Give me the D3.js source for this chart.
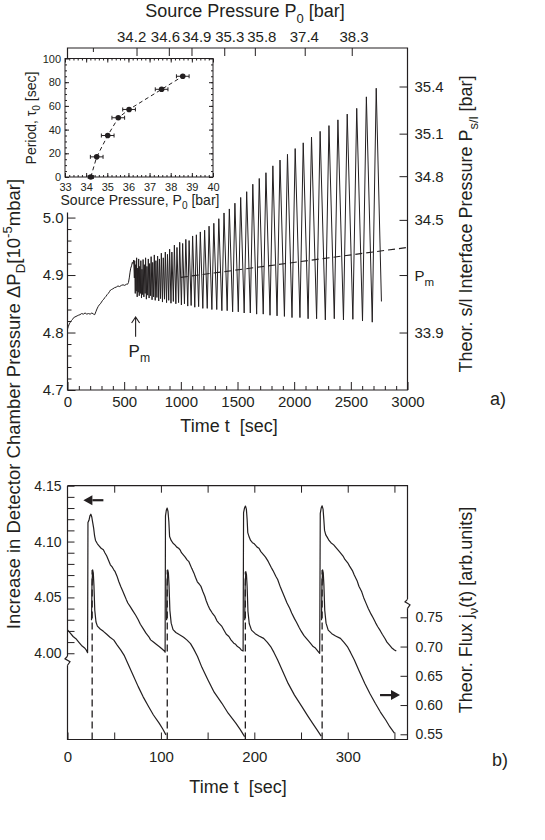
<!DOCTYPE html>
<html><head><meta charset="utf-8">
<script src="https://cdn.jsdelivr.net/npm/d3@7"></script>
<style>
body{margin:0;background:#fff}
</style></head><body>
<svg id="c" width="545" height="840" xmlns="http://www.w3.org/2000/svg"></svg>
<script>
// ================= DATA =================
// Panel a: detector chamber pressure before oscillation onset [t (s), ΔP_D]
const preSeries = [[0,4.806],[8,4.811],[16,4.815],[25,4.818],[35,4.821],[45,4.823],[55,4.826],[65,4.827],[75,4.828],[85,4.829],[95,4.830],[110,4.831],[125,4.833],[140,4.832],[155,4.834],[170,4.832],[185,4.833],[200,4.832],[215,4.834],[230,4.832],[240,4.831],[250,4.836],[260,4.841],[270,4.845],[280,4.848],[290,4.850],[300,4.853],[310,4.856],[320,4.858],[330,4.861],[340,4.863],[350,4.866],[360,4.868],[370,4.871],[380,4.874],[390,4.875],[400,4.876],[415,4.878],[430,4.879],[445,4.881],[460,4.880],[475,4.882],[490,4.883],[505,4.882],[520,4.884],[530,4.884],[538,4.887],[545,4.895],[552,4.905],[558,4.912],[565,4.916],[572,4.922],[578,4.920],[584,4.926]];
// Panel a: oscillation turning points
const troughT = [590,598,606,615,624,633,643,653,663,674,685,696,708,720,733,746,760,774,789,805,821,838,856,874,893,913,934,956,980,1005,1032,1061,1091,1123,1157,1194,1233,1274,1317,1362,1409,1457,1507,1559,1613,1669,1727,1787,1849,1914,1981,2051,2123,2198,2275,2354,2435,2518,2603,2689,2770];
const troughV = [4.895,4.868,4.872,4.862,4.870,4.864,4.868,4.860,4.866,4.862,4.868,4.858,4.865,4.860,4.864,4.857,4.862,4.856,4.861,4.855,4.859,4.853,4.858,4.852,4.856,4.851,4.854,4.850,4.852,4.848,4.850,4.846,4.847,4.844,4.845,4.842,4.842,4.840,4.840,4.838,4.838,4.836,4.836,4.834,4.834,4.832,4.832,4.830,4.829,4.828,4.826,4.826,4.824,4.824,4.822,4.824,4.822,4.823,4.820,4.818,4.854];
const peakT = [593,601,610,619,628,637,647,657,667,678,689,701,713,725,738,752,766,780,795,811,828,845,863,882,901,921,943,966,990,1016,1044,1073,1104,1137,1172,1210,1249,1291,1335,1381,1428,1477,1528,1581,1635,1692,1751,1812,1875,1941,2009,2080,2153,2229,2307,2386,2468,2552,2637,2724];
const peakV = [4.925,4.918,4.930,4.912,4.928,4.915,4.925,4.910,4.927,4.918,4.930,4.915,4.928,4.920,4.932,4.922,4.935,4.925,4.933,4.928,4.938,4.930,4.940,4.936,4.945,4.940,4.952,4.948,4.957,4.955,4.962,4.960,4.968,4.970,4.975,4.978,4.985,4.990,4.998,5.008,5.015,5.025,5.035,5.045,5.058,5.068,5.078,5.090,5.100,5.110,5.120,5.130,5.140,5.150,5.160,5.170,5.180,5.190,5.210,5.225];
// Panel a: dashed mean-pressure line
const pmLineT = [1000, 3000];
const pmLineV = [4.896, 4.948];
// Panel a: axes
const aBottomTicks = [0,500,1000,1500,2000,2500,3000];
const aLeftTicks = [4.7,4.8,4.9,5.0];
const aTopTickT = [609,894,1094,1383,1653,2093,2508];
const aTopShortTickT = [224];
const aTopLabelT = [566,864,1141,1432,1715,2090,2529];
const aTopLabels = ["34.2","34.6","34.9","35.3","35.8","37.4","38.3"];
const aRightLabels = ["35.4","35.1","34.8","34.5","P_m","33.9"];
const aRightLabelAt = [5.228,5.146,5.072,4.996,4.900,4.800];
const pmArrowT = 601;

// Inset: period vs source pressure
const insetP0 = [34.22,34.5,35.02,35.52,36.03,37.57,38.57];
const insetTau = [0,17,35,50,57,74,85];
const insetErr = [0.12,0.3,0.3,0.3,0.3,0.3,0.3];
const insetXTicks = [33,34,35,36,37,38,39,40];
const insetYTicks = [0,20,40,60,80,100];

// Panel b: detector chamber pressure (left axis) [t, value]
const upperCurve = [[0,4.021],[3,4.018],[6,4.015],[9,4.013],[12,4.010],[15,4.007],[18,4.005],[20,4.003],[21.5,4.0005],
[21.9,4.117],[23,4.119],[24,4.123],[25,4.1245],[26,4.122],[27,4.117],[28,4.112],[29,4.105],[30,4.101],[32,4.098],[34,4.096],[36,4.094],[38.4,4.0926],[40,4.090],[42,4.087],[44,4.083],[45.9,4.0792],[48,4.077],[49.6,4.0747],[51,4.073],[53,4.069],[55,4.064],[57,4.0598],[59,4.056],[61,4.052],[63,4.048],[64.6,4.045],[67,4.042],[70,4.038],[73,4.034],[75.7,4.030],[78,4.026],[81,4.022],[84,4.018],[86.9,4.015],[89,4.012],[92,4.010],[95,4.008],[98.1,4.006],[101,4.004],[103.7,4.002],[104.5,4.001],
[104.9,4.123],[105.8,4.128],[106.7,4.130],[107.6,4.127],[108.5,4.118],[109.3,4.1045],[111,4.101],[113,4.0985],[115,4.097],[117,4.095],[119,4.094],[120.5,4.0926],[122,4.090],[124,4.088],[126,4.086],[128,4.0836],[130,4.082],[131,4.080],[133,4.076],[135.4,4.0717],[137,4.068],[139,4.064],[141,4.062],[142.9,4.0598],[145,4.055],[147,4.051],[148.5,4.047],[150.4,4.043],[152,4.040],[155,4.036],[157.8,4.033],[160,4.029],[162,4.027],[165.3,4.024],[168,4.020],[170,4.017],[172.8,4.015],[175,4.012],[178,4.009],[180,4.008],[182,4.006],[184,4.005],[186,4.003],[188,4.002],
[188.5,4.126],[189.5,4.130],[190.5,4.1318],[191.5,4.129],[192.3,4.120],[193,4.108],[194.5,4.104],[196,4.101],[198,4.099],[200,4.098],[203,4.095],[205,4.094],[207,4.091],[210,4.088],[212,4.086],[215,4.082],[218,4.077],[220,4.074],[223,4.069],[225,4.066],[228,4.059],[230,4.055],[233,4.049],[235,4.045],[238,4.040],[240,4.036],[243,4.031],[245,4.028],[248,4.023],[250,4.020],[253,4.016],[255,4.014],[258,4.011],[260,4.009],[263,4.006],[265,4.005],[268,4.002],[270,4.000],
[270.6,4.125],[271.6,4.130],[272.6,4.132],[273.6,4.129],[274.4,4.120],[275.2,4.110],[276.5,4.106],[278,4.104],[280,4.101],[282,4.099],[285,4.097],[287,4.095],[290,4.092],[292,4.090],[295,4.087],[297,4.084],[300,4.081],[302,4.078],[305,4.074],[307,4.070],[310,4.065],[312,4.060],[315,4.055],[317,4.050],[320,4.044],[322,4.040],[325,4.035],[327,4.032],[330,4.027],[332,4.024],[335,4.020],[337,4.017],[340,4.013],[342,4.010],[345,4.007],[347,4.005],[350,4.003],[352,4.002]];
// Panel b: theoretical flux (right axis), cycles separated by null
const lowT = [25.7,26.2,26.9,27.6,28.3,29.2,30.5,32,35,38.4,42,45.5,49.6,53,57.1,61,64.6,70,75.7,81,86.9,92,98.1,102,105.4,null,
106.1,106.6,107.3,108,108.7,109.6,111,113,116,120,124.3,128,131.7,135,139.2,144,150.4,157,165.3,172,180.2,185,189.6,null,
189.7,190.2,190.9,191.6,192.3,193.2,194.6,197,201,205,210,214,217.5,221,225,230,236.2,243,251.1,257,262.3,267,271.6,null,
271.9,272.4,273.1,273.8,274.5,275.4,276.8,279.1,283,287,292.2,296,299.6,303,307.1,312,318.3,324,329.5,335,340.7,345,350];
const lowV = [0.745,0.805,0.831,0.826,0.805,0.762,0.742,0.735,0.730,0.726,0.721,0.716,0.711,0.703,0.694,0.684,0.671,0.652,0.6315,0.614,0.597,0.583,0.569,0.559,0.549,null,
0.745,0.805,0.831,0.826,0.805,0.762,0.740,0.729,0.724,0.720,0.716,0.711,0.705,0.696,0.683,0.664,0.643,0.622,0.603,0.586,0.569,0.558,0.546,null,
0.745,0.803,0.828,0.823,0.803,0.760,0.739,0.728,0.722,0.718,0.714,0.707,0.700,0.690,0.677,0.659,0.637,0.617,0.597,0.582,0.569,0.558,0.547,null,
0.745,0.805,0.831,0.826,0.805,0.762,0.740,0.728,0.722,0.718,0.714,0.707,0.700,0.690,0.677,0.659,0.637,0.619,0.603,0.588,0.5745,0.563,0.552];
const dashT = [26.4,106.8,190.4,272.6];
const dashTop = [0.831,0.831,0.828,0.831];
// Panel b axes
const bXTicks = [0,50,100,150,200,250,300,350];
const bXLabels = [0,100,200,300];
const bLeftTicks = [4.00,4.01,4.02,4.03,4.04,4.05,4.06,4.07,4.08,4.09,4.10,4.11,4.12,4.13,4.14,4.15];
const bLeftLabels = [4.00,4.05,4.10,4.15];
const bRightTicks = [0.55,0.60,0.65,0.70,0.75];
const leftArrowAt = [17, 4.137];   // [t, value] arrow tip (points left)
const rightArrowAt = [356, 0.617]; // [t, value] arrow tip (points right)

// ================= DRAWING =================
const FONT = "'Liberation Sans', Arial, Helvetica, sans-serif";
const ink = "#231f20";
const svg = d3.select("#c");
svg.append("rect").attr("width",545).attr("height",840).attr("fill","#fff");

function rich(sel, parts, fs, base){
  // parts: [text, mode] with mode "", "sub", "sup"; base = baseline offset (px)
  let shift = -(base||0);
  parts.forEach(([t, m]) => {
    const ts = sel.append("tspan").text(t);
    let target = m === "sub" ? 0.32*fs : (m === "sup" ? -0.38*fs : 0);
    ts.attr("dy", target - shift);
    shift = target;
    if (m) ts.attr("font-size", (0.72*fs).toFixed(1));
  });
  return sel;
}
function txt(x, y, fs, anchor){
  return svg.append("text").attr("x",x).attr("y",y).attr("font-size",fs)
    .attr("font-family",FONT).attr("fill",ink).attr("text-anchor",anchor||"start");
}
function styleAxis(g, fs){
  g.attr("font-family",FONT).attr("font-size",fs);
  g.select(".domain").remove();
  g.selectAll(".tick line").attr("stroke",ink).attr("stroke-width",1);
  g.selectAll(".tick text").attr("fill",ink);
  return g;
}

// ---------- Panel a ----------
const xA = d3.scaleLinear().domain([0,3000]).range([67.5,407.5]);
const yA = d3.scaleLinear().domain([4.7,5.295]).range([390,48]);

styleAxis(svg.append("g").attr("transform","translate(0,390)")
  .call(d3.axisBottom(xA).tickValues(aBottomTicks).tickSize(-8).tickPadding(6).tickFormat(d3.format("d"))),15);
styleAxis(svg.append("g").attr("transform","translate(0,390)")
  .call(d3.axisBottom(xA).tickValues(d3.range(100,3000,100).filter(d=>d%500)).tickSize(-4).tickFormat("")),15);
styleAxis(svg.append("g").attr("transform","translate(67.5,0)")
  .call(d3.axisLeft(yA).tickValues(aLeftTicks).tickSize(-8).tickPadding(4).tickFormat(d3.format(".1f"))),15);
styleAxis(svg.append("g").attr("transform","translate(67.5,0)")
  .call(d3.axisLeft(yA).tickValues(d3.range(4.72,5.0,0.02).filter(d=>Math.abs(d*10-Math.round(d*10))>0.01)).tickSize(-4).tickFormat("")),15);
styleAxis(svg.append("g").attr("transform","translate(0,48)")
  .call(d3.axisTop(xA).tickValues(aTopTickT).tickSize(-8).tickFormat("")),15);
styleAxis(svg.append("g").attr("transform","translate(0,48)")
  .call(d3.axisTop(xA).tickValues(aTopShortTickT).tickSize(-4).tickFormat("")),15);
styleAxis(svg.append("g").attr("transform","translate(407.5,0)")
  .call(d3.axisRight(yA).tickValues(aRightLabelAt).tickSize(-8).tickFormat("")),15);

aTopLabels.forEach((l,i)=>{ txt(xA(aTopLabelT[i]),42,15,"middle").text(l); });
aRightLabels.forEach((l,i)=>{
  const t = txt(407.5+7, yA(aRightLabelAt[i]), 15);
  if (l === "P_m") rich(t, [["P",""],["m","sub"]], 16, 5.5); else t.attr("dy","0.36em").text(l);
});

svg.append("path").attr("d",`M67.5,58V48H407.5V390H67.5V${yA(5.0)-5}`)
  .attr("fill","none").attr("stroke",ink).attr("stroke-width",1.2);

const lineA = d3.line().x(d=>xA(d[0])).y(d=>yA(d[1]));
const osc = [];
troughT.forEach((t,i)=>osc.push([t,troughV[i]]));
peakT.forEach((t,i)=>osc.push([t,peakV[i]]));
osc.sort((a,b)=>a[0]-b[0]);
svg.append("path").datum(preSeries.concat(osc)).attr("d",lineA)
  .attr("fill","none").attr("stroke",ink).attr("stroke-width",1).attr("stroke-linejoin","round");
svg.append("path").datum(pmLineT.map((t,i)=>[t,pmLineV[i]])).attr("d",lineA)
  .attr("fill","none").attr("stroke",ink).attr("stroke-width",1.1).attr("stroke-dasharray","7,4");

const ax = xA(pmArrowT), ayTop = yA(4.827), ayBot = yA(4.7927);
svg.append("path").attr("d",`M${ax},${ayBot}V${ayTop}M${ax-4},${ayTop+6}L${ax},${ayTop}L${ax+4},${ayTop+6}`)
  .attr("fill","none").attr("stroke",ink).attr("stroke-width",1.1);
rich(txt(ax-7, ayBot+20, 17), [["P",""],["m","sub"]], 17);

// ---------- Inset ----------
const xI = d3.scaleLinear().domain([33,40]).range([65,213]);
const yI = d3.scaleLinear().domain([0,100]).range([177,58.5]);
svg.append("rect").attr("x",65).attr("y",58.5).attr("width",148).attr("height",118.5)
  .attr("fill","#fff").attr("stroke",ink).attr("stroke-width",1);
styleAxis(svg.append("g").attr("transform","translate(0,177)")
  .call(d3.axisBottom(xI).tickValues(insetXTicks).tickSize(-4).tickPadding(6).tickFormat(d3.format("d"))),11);
styleAxis(svg.append("g").attr("transform","translate(0,177)")
  .call(d3.axisBottom(xI).tickValues(d3.range(33.2,40,0.2)).tickSize(-2).tickFormat("")),11);
styleAxis(svg.append("g").attr("transform","translate(0,58.5)")
  .call(d3.axisTop(xI).tickValues(insetXTicks).tickSize(-4).tickFormat("")),11);
styleAxis(svg.append("g").attr("transform","translate(0,58.5)")
  .call(d3.axisTop(xI).tickValues(d3.range(33.2,40,0.2)).tickSize(-2).tickFormat("")),11);
styleAxis(svg.append("g").attr("transform","translate(65,0)")
  .call(d3.axisLeft(yI).tickValues(insetYTicks).tickSize(-4).tickPadding(4).tickFormat(d3.format("d"))),11);
styleAxis(svg.append("g").attr("transform","translate(65,0)")
  .call(d3.axisLeft(yI).tickValues(d3.range(5,100,5)).tickSize(-2).tickFormat("")),11);
styleAxis(svg.append("g").attr("transform","translate(213,0)")
  .call(d3.axisRight(yI).tickValues(insetYTicks).tickSize(-4).tickFormat("")),11);
styleAxis(svg.append("g").attr("transform","translate(213,0)")
  .call(d3.axisRight(yI).tickValues(d3.range(5,100,5)).tickSize(-2).tickFormat("")),11);
const insetPts = insetP0.map((p,i)=>[p,insetTau[i],insetErr[i]]);
svg.append("path").datum(insetPts).attr("d",d3.line().x(d=>xI(d[0])).y(d=>yI(d[1])))
  .attr("fill","none").attr("stroke",ink).attr("stroke-width",1).attr("stroke-dasharray","4,3");
const eg = svg.append("g");
insetPts.forEach(d=>{
  const x0 = xI(d[0]-d[2]), x1 = xI(d[0]+d[2]), y = yI(d[1]);
  eg.append("path").attr("d",`M${x0},${y}H${x1}M${x0},${y-2}V${y+2}M${x1},${y-2}V${y+2}`)
    .attr("stroke",ink).attr("stroke-width",1).attr("fill","none");
  eg.append("circle").attr("cx",xI(d[0])).attr("cy",y).attr("r",2.8).attr("fill",ink);
});
rich(txt(140,205,14,"middle"), [["Source Pressure, P",""],["0","sub"],[" [bar]",""]], 14);
rich(txt(0,0,14,"middle").attr("transform","translate(36,118) rotate(-90)"),
  [["Period, τ",""],["0","sub"],[" [sec]",""]], 14);

// ---------- Panel b ----------
const xB = d3.scaleLinear().domain([0,364]).range([67.5,407.5]);
const yBL = d3.scaleLinear().domain([3.9228,4.15]).range([739.5,485.7]);
const yBR = d3.scaleLinear().domain([0.5411,0.975]).range([739.5,485.7]);

svg.append("path").attr("d",`M67.5,485.7H407.5V${yBR(0.75)-18}M407.5,${yBR(0.75)-9}V739.5H67.5V${yBL(4.0)+12}M67.5,${yBL(4.0)+3}V485.7`)
  .attr("fill","none").attr("stroke",ink).attr("stroke-width",1.2);
const bl = yBL(4.0)+3;
svg.append("path").attr("d",`M67.5,${bl}L65,${bl+2.5}L70,${bl+5.5}L67.5,${bl+9}`).attr("fill","none").attr("stroke",ink).attr("stroke-width",1.2);
const br = yBR(0.75)-18;
svg.append("path").attr("d",`M407.5,${br}L405,${br+2.5}L410,${br+5.5}L407.5,${br+9}`).attr("fill","none").attr("stroke",ink).attr("stroke-width",1.2);

styleAxis(svg.append("g").attr("transform","translate(0,739.5)")
  .call(d3.axisBottom(xB).tickValues(bXTicks).tickSize(-7).tickPadding(12).tickFormat(d=>bXLabels.includes(d)?d:"")),15);
styleAxis(svg.append("g").attr("transform","translate(0,485.7)")
  .call(d3.axisTop(xB).tickValues(bXTicks.filter(d=>d>0)).tickSize(-7).tickFormat("")),15);
styleAxis(svg.append("g").attr("transform","translate(67.5,0)")
  .call(d3.axisLeft(yBL).tickValues(bLeftTicks).tickSize(-7).tickPadding(6)
    .tickFormat(d=>bLeftLabels.some(v=>Math.abs(v-d)<1e-6)?d3.format(".2f")(d):"")),14);
styleAxis(svg.append("g").attr("transform","translate(407.5,0)")
  .call(d3.axisRight(yBR).tickValues(bRightTicks).tickSize(-7).tickPadding(8).tickFormat(d3.format(".2f"))),14);

svg.append("path").datum(upperCurve).attr("d",d3.line().x(d=>xB(d[0])).y(d=>yBL(d[1])))
  .attr("fill","none").attr("stroke",ink).attr("stroke-width",1.2).attr("stroke-linejoin","round");
const lowPts = lowT.map((t,i)=>[t,lowV[i]]);
svg.append("path").datum(lowPts)
  .attr("d",d3.line().defined(d=>d[0]!==null).x(d=>xB(d[0])).y(d=>yBR(d[1])))
  .attr("fill","none").attr("stroke",ink).attr("stroke-width",1.2).attr("stroke-linejoin","round");
dashT.forEach((t,i)=>{
  svg.append("line").attr("x1",xB(t)).attr("x2",xB(t)).attr("y1",739.5).attr("y2",yBR(dashTop[i]))
    .attr("stroke",ink).attr("stroke-width",1.3).attr("stroke-dasharray","7,4");
});
function arrow(tipX, tipY, dir){
  const L = 20, h = 9, w = 5;
  svg.append("path").attr("d",`M${tipX},${tipY}l${-dir*h},${-w}v${2*w}z`).attr("fill",ink);
  svg.append("line").attr("x1",tipX-dir*h).attr("x2",tipX-dir*L).attr("y1",tipY).attr("y2",tipY)
    .attr("stroke",ink).attr("stroke-width",2.2);
}
arrow(xB(leftArrowAt[0]), yBL(leftArrowAt[1]), -1);
arrow(xB(rightArrowAt[0]), yBR(rightArrowAt[1]), 1);

// ---------- Titles ----------
rich(txt(245,17,18,"middle"), [["Source Pressure P",""],["0","sub"],[" [bar]",""]], 18);
txt(229,432,18,"middle").text("Time t\u00a0 [sec]");
txt(238,793,18,"middle").text("Time t\u00a0 [sec]");
txt(490,405,18).text("a)");
txt(492,766,18).text("b)");
rich(txt(0,0,18.5,"middle").attr("transform","translate(13,404) rotate(-90)"),
  [["Increase in Detector Chamber Pressure ΔP",""],["D","sub"],["[10",""],["-5","sup"],["mbar]",""]], 18.5, 6.5);
rich(txt(0,0,18,"middle").attr("transform","translate(472,224) rotate(-90)"),
  [["Theor. s/l Interface Pressure P",""],["s/l","sub"],[" [bar]",""]], 18);
rich(txt(0,0,18,"middle").attr("transform","translate(472,610) rotate(-90)"),
  [["Theor. Flux j",""],["ν","sub"],["(t) [arb.units]",""]], 18);
</script>
</body></html>
